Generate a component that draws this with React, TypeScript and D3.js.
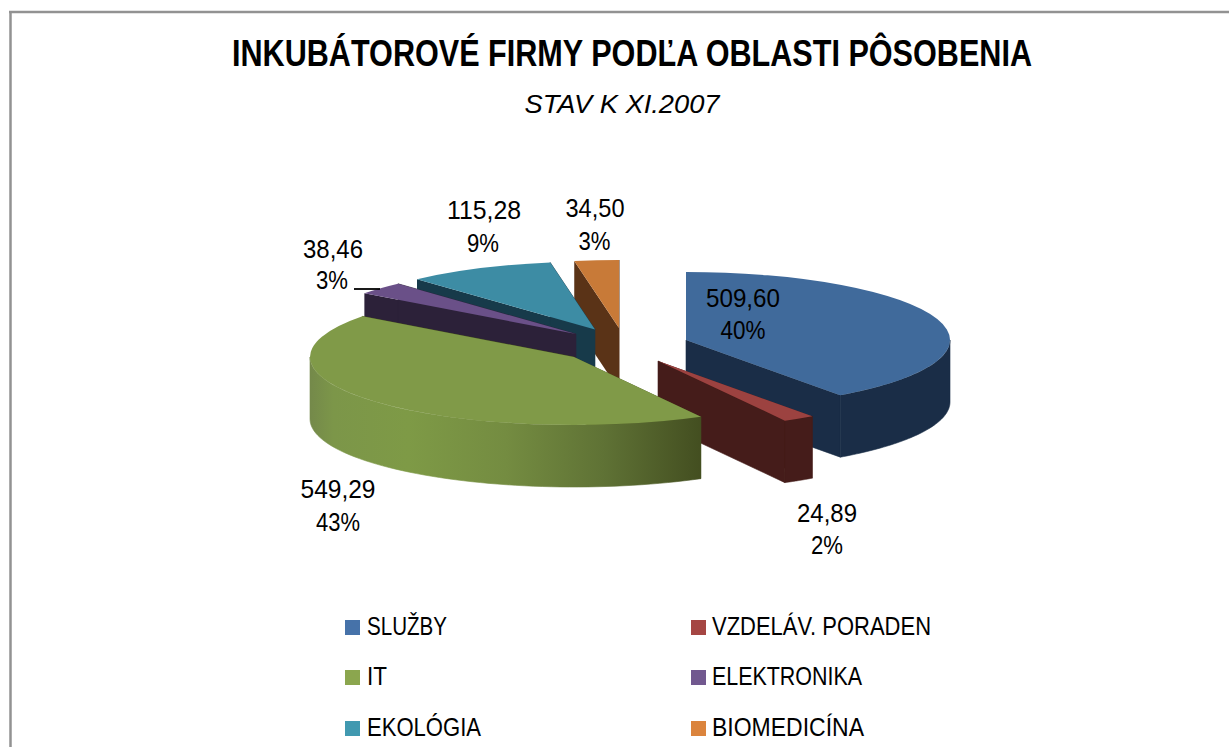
import React from "react";
import * as d3 from "d3";

const categories = ["SLUŽBY", "VZDELÁV. PORADEN", "IT", "ELEKTRONIKA", "EKOLÓGIA", "BIOMEDICÍNA"];
const values = [509.6, 24.89, 549.29, 38.46, 115.28, 34.5];
const topColors = ["#406a9b", "#9c4240", "#809a48", "#6a5088", "#3d8ca4", "#c87a38"];
const wallColors = ["#1a2d47", "#451c1a", "#45501f", "#2c2139", "#173a4a", "#5a3317"];
const legendColors = ["#4672a9", "#a54643", "#8ba64e", "#71588f", "#4199b0", "#db843d"];

// exploded slice centres on the page
const centerX = [686, 658, 574, 576, 595, 619];
const centerY = [340, 361, 357, 334, 329.5, 328];
const paintOrder = [5, 4, 3, 0, 1, 2];

const RX = 264, RY = 68, DEPTH = 62;
const FONT = "'Liberation Sans', Arial, sans-serif";

// label layout: [value cx, value baseline, pct cx, pct baseline, value width, pct width]
const labelLayout = [
  [743, 307, 743, 339, 74, 45],
  [827, 522, 827, 554, 60, 32],
  [338, 498, 338, 531, 75, 44],
  [333, 258, 332, 289, 60, 32],
  [484, 219, 483, 252, 74, 32],
  [595, 217, 594.5, 250, 59, 32],
];

const legendX = [345, 691];
const legendTextX = [367, 712];
const legendY = [627, 677, 728];
const legendWidths = [80, 219, 20, 150, 114, 152];

function Txt({ x, y, w, size, anchor = "middle", weight = 400, italic = false, children }: any) {
  return (
    <text
      x={x}
      y={y}
      textAnchor={anchor}
      fontFamily={FONT}
      fontSize={size}
      fontWeight={weight}
      fontStyle={italic ? "italic" : "normal"}
      textLength={w}
      lengthAdjust="spacingAndGlyphs"
      fill="#000"
    >
      {children}
    </text>
  );
}

export default function App() {
  const arcs = d3.pie<number>().sort(null).startAngle(0).endAngle(2 * Math.PI)(values);
  const total = d3.sum(values);
  const topArc = d3.arc<any>().innerRadius(0).outerRadius(RX);
  const sx = d3.scaleLinear().domain([-1, 1]).range([-RX, RX]);
  const sy = d3.scaleLinear().domain([-1, 1]).range([-RY, RY]);
  const line = d3.line<[number, number]>();

  const rim = (i: number, a: number): [number, number] => [
    centerX[i] + sx(Math.sin(a)),
    centerY[i] + sy(-Math.cos(a)),
  ];

  const radialWall = (i: number, a: number) => {
    const c: [number, number] = [centerX[i], centerY[i]];
    const r = rim(i, a);
    return line([c, r, [r[0], r[1] + DEPTH], [c[0], c[1] + DEPTH]]) + "Z";
  };

  const outerWall = (i: number, a0: number, a1: number) => {
    const from = Math.max(a0, Math.PI / 2);
    const to = Math.min(a1, (3 * Math.PI) / 2);
    if (to <= from) return null;
    const steps = d3.range(0, 61).map((k) => from + ((to - from) * k) / 60);
    const upper = steps.map((a) => rim(i, a));
    const lower = steps.map((a) => rim(i, a)).map(([x, y]) => [x, y + DEPTH] as [number, number]).reverse();
    return line([...upper, ...lower]) + "Z";
  };

  return (
    <svg
      width={1229}
      height={747}
      viewBox="0 0 1229 747"
      style={{ position: "fixed", left: 0, top: 0, background: "#fff" }}
    >
      <defs>
        <linearGradient id="itWall" gradientUnits="userSpaceOnUse" x1={310} x2={702} y1={0} y2={0}>
          <stop offset="0" stopColor="#74894a" />
          <stop offset="0.06" stopColor="#7c9649" />
          <stop offset="0.25" stopColor="#7e9a46" />
          <stop offset="0.5" stopColor="#748c41" />
          <stop offset="0.75" stopColor="#5f7235" />
          <stop offset="1" stopColor="#434e20" />
        </linearGradient>
      </defs>

      <line x1={10.5} y1={11} x2={10.5} y2={747} stroke="#929292" strokeWidth={2.5} />
      <line x1={9} y1={12} x2={1229} y2={12} stroke="#929292" strokeWidth={2.5} />

      <Txt x={632} y={66} w={800} size={36} weight={700}>
        INKUBÁTOROVÉ FIRMY PODĽA OBLASTI PÔSOBENIA
      </Txt>
      <Txt x={622} y={113} w={195} size={25} italic>
        STAV K XI.2007
      </Txt>

      {paintOrder.map((i) => {
        const a = arcs[i];
        const outer = outerWall(i, a.startAngle, a.endAngle);
        const wallFill = i === 2 ? "url(#itWall)" : wallColors[i];
        return (
          <g key={categories[i]}>
            <path d={radialWall(i, a.startAngle)} fill={wallColors[i]} />
            <path d={radialWall(i, a.endAngle)} fill={wallColors[i]} stroke={wallColors[i]} strokeWidth={0.6} />
            {outer && <path d={outer} fill={wallFill} stroke={wallFill} strokeWidth={0.6} />}
            <path
              d={topArc(a) as string}
              fill={topColors[i]}
              transform={`translate(${centerX[i]},${centerY[i]}) scale(1,${RY / RX})`}
            />
          </g>
        );
      })}

      <line x1={354} y1={289} x2={380} y2={289} stroke="#000" strokeWidth={1.8} />

      {values.map((v, i) => {
        const [vx, vy, px, py, vw, pw] = labelLayout[i];
        return (
          <g key={i}>
            <Txt x={vx} y={vy} w={vw} size={26}>
              {v.toFixed(2).replace(".", ",")}
            </Txt>
            <Txt x={px} y={py} w={pw} size={26}>
              {`${Math.round((v / total) * 100)}%`}
            </Txt>
          </g>
        );
      })}

      {categories.map((c, i) => {
        const col = i % 2;
        const row = Math.floor(i / 2);
        return (
          <g key={c}>
            <rect x={legendX[col]} y={legendY[row] - 7} width={15} height={15} fill={legendColors[i]} />
            <Txt x={legendTextX[col]} y={legendY[row] + 8} w={legendWidths[i]} size={26} anchor="start">
              {c}
            </Txt>
          </g>
        );
      })}
    </svg>
  );
}
